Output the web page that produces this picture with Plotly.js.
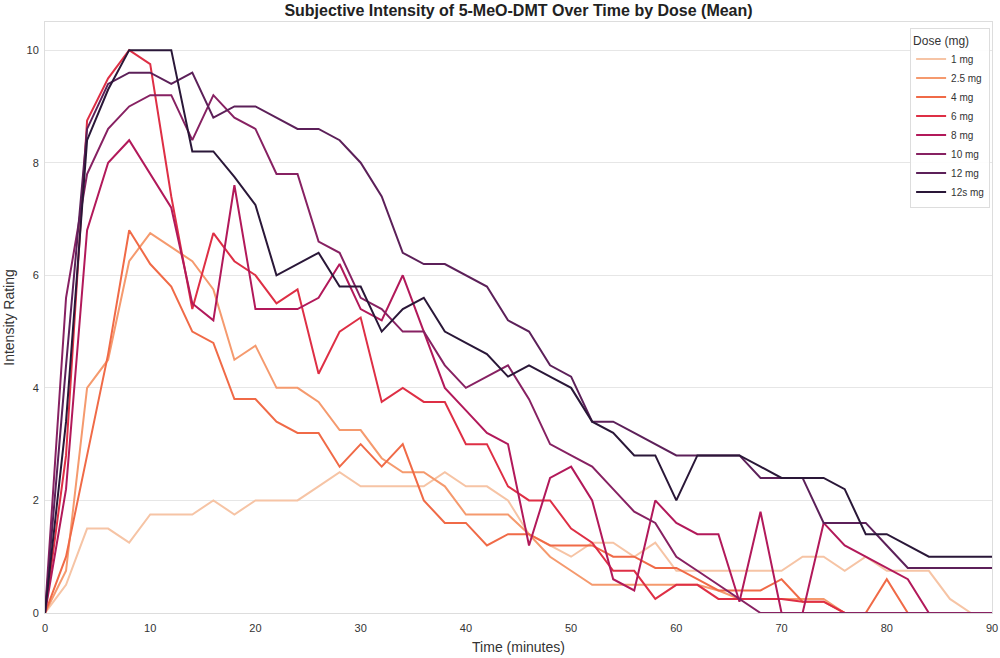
<!DOCTYPE html>
<html>
<head>
<meta charset="utf-8">
<script src="https://cdn.plot.ly/plotly-3.0.1.min.js"></script>
<style>html,body{margin:0;padding:0;background:#fff;}#chart{width:1000px;height:658px;}</style>
</head>
<body>
<div id="chart"></div>
<script>
// Time points (minutes)
const time = [0,2,4,6,8,10,12,14,16,18,20,22,24,26,28,30,32,34,36,38,40,42,44,46,48,50,52,54,56,58,60,62,64,66,68,70,72,74,76,78,80,82,84,86,88,90];

const doseLabels = ["1 mg","2.5 mg","4 mg","6 mg","8 mg","10 mg","12 mg","12s mg"];

const dose1   = [0,0.5,1.5,1.5,1.25,1.75,1.75,1.75,2.0,1.75,2.0,2.0,2.0,2.25,2.5,2.25,2.25,2.25,2.25,2.5,2.25,2.25,2.0,1.4,1.2,1.0,1.25,1.25,1.0,1.25,0.75,0.75,0.75,0.75,0.75,0.75,1.0,1.0,0.75,1.0,0.75,0.75,0.75,0.25,0,0];
const dose2_5 = [0,0.75,4.0,4.5,6.25,6.75,6.5,6.25,5.75,4.5,4.75,4.0,4.0,3.75,3.25,3.25,2.75,2.5,2.5,2.25,1.75,1.75,1.75,1.4,1.0,0.75,0.5,0.5,0.5,0.5,0.5,0.5,0.4,0.25,0.25,0.25,0.25,0.25,0,0,0,0,0,0,0,0];
const dose4   = [0,1.0,2.8,4.6,6.8,6.2,5.8,5.0,4.8,3.8,3.8,3.4,3.2,3.2,2.6,3.0,2.6,3.0,2.0,1.6,1.6,1.2,1.4,1.4,1.2,1.2,1.2,1.0,1.0,0.8,0.8,0.6,0.4,0.4,0.4,0.6,0.2,0.2,0,0,0.6,0,0,0,0,0];
const dose6   = [0,2.8,8.75,9.5,10,9.75,7.4,5.4,6.75,6.25,6.0,5.5,5.75,4.25,5.0,5.25,3.75,4.0,3.75,3.75,3.0,3.0,2.25,2.0,2.0,1.5,1.25,0.75,0.75,0.25,0.5,0.5,0.25,0.25,0.25,0.25,0.2,0.2,0,0,0,0,0,0,0,0];
const dose8   = [0,2.2,6.8,8.0,8.4,7.8,7.2,5.5,5.2,7.6,5.4,5.4,5.4,5.6,6.2,5.4,5.2,6.0,5.0,4.0,3.6,3.2,3.0,1.2,2.4,2.6,2.0,0.6,0.4,2.0,1.6,1.4,1.4,0.2,1.8,0,0,1.6,1.2,1.0,0.8,0.6,0,0,0,0];
const dose10  = [0,5.6,7.8,8.6,9.0,9.2,9.2,8.4,9.2,8.8,8.6,7.8,7.8,6.6,6.4,5.6,5.4,5.0,5.0,4.4,4.0,4.2,4.4,3.8,3.0,2.8,2.6,2.2,1.8,1.6,1.0,0.75,0.5,0.25,0,0,0,0,0,0,0,0,0,0,0,0];
const dose12  = [0,4.4,8.6,9.4,9.6,9.6,9.4,9.6,8.8,9.0,9.0,8.8,8.6,8.6,8.4,8.0,7.4,6.4,6.2,6.2,6.0,5.8,5.2,5.0,4.4,4.2,3.4,3.4,3.2,3.0,2.8,2.8,2.8,2.8,2.4,2.4,2.4,1.6,1.6,1.6,1.2,0.8,0.8,0.8,0.8,0.8];
const dose12s = [0,3.4,8.4,9.3,10,10,10,8.2,8.2,7.75,7.25,6.0,6.2,6.4,5.8,5.8,5.0,5.4,5.6,5.0,4.8,4.6,4.2,4.4,4.2,4.0,3.4,3.2,2.8,2.8,2.0,2.8,2.8,2.8,2.6,2.4,2.4,2.4,2.2,1.4,1.4,1.2,1.0,1.0,1.0,1.0];

const colors = ["#f6c4a5","#f59a6e","#f06a47","#de2f45","#b2195a","#872162","#5c2059","#2a1738"];

const series = [dose1, dose2_5, dose4, dose6, dose8, dose10, dose12, dose12s];

const traces = series.map((vals, i) => ({
  x: time,
  y: vals,
  type: 'scatter',
  mode: 'lines',
  name: doseLabels[i],
  line: {color: colors[i], width: 2}
}));

const layout = {
  width: 1000,
  height: 658,
  margin: {l: 45, r: 8, t: 22, b: 45},
  paper_bgcolor: '#fff',
  plot_bgcolor: '#fff',
  font: {family: 'Liberation Sans, Arial, sans-serif', color: '#333', size: 11},
  title: {
    text: '<b>Subjective Intensity of 5-MeO-DMT Over Time by Dose (Mean)</b>',
    font: {size: 16, color: '#222', family: 'Liberation Sans, Arial, sans-serif'},
    x: 0.5, xref: 'paper', y: 0.993, yanchor: 'top'
  },
  xaxis: {
    range: [0, 90],
    tickvals: [0,10,20,30,40,50,60,70,80,90],
    showgrid: false,
    zeroline: false,
    showline: true, mirror: true, linecolor: '#dddddd', linewidth: 1,
    ticks: 'outside', ticklen: 5, tickcolor: 'rgba(0,0,0,0)',
    tickfont: {size: 11, color: '#333'},
    title: {text: 'Time (minutes)', font: {size: 14, color: '#333'}, standoff: 8}
  },
  yaxis: {
    range: [0, 10.5],
    tickvals: [0,2,4,6,8,10],
    showgrid: true, gridcolor: '#e6e6e6', gridwidth: 1,
    zeroline: false,
    showline: true, mirror: true, linecolor: '#dddddd', linewidth: 1,
    ticks: 'outside', ticklen: 3, tickcolor: 'rgba(0,0,0,0)',
    tickfont: {size: 11, color: '#333'},
    title: {text: 'Intensity Rating', font: {size: 14, color: '#333'}, standoff: 8}
  },
  legend: {
    x: 0.998, y: 0.99, xanchor: 'right', yanchor: 'top',
    bgcolor: 'rgba(255,255,255,0.9)', bordercolor: '#dddddd', borderwidth: 1,
    font: {size: 10, color: '#333'},
    title: {text: 'Dose (mg)', font: {size: 12, color: '#333'}},
    tracegroupgap: 0, itemwidth: 30
  },
  showlegend: true
};

Plotly.newPlot('chart', traces, layout, {displayModeBar: false, staticPlot: true});
</script>
</body>
</html>
